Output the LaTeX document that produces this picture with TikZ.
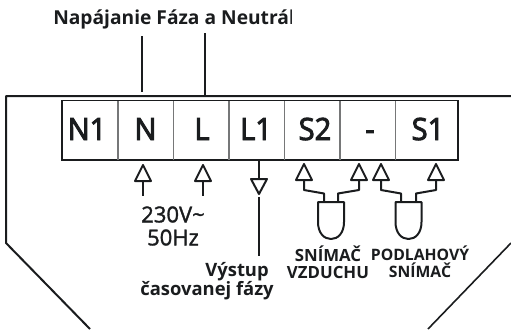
\documentclass[tikz,border=0pt]{standalone}
\usepackage{fontspec}
\setmainfont{Open Sans}
\newfontfamily\cellfont[FakeStretch=0.95,FakeBold=3]{Open Sans}
\newfontfamily\midfont[FakeBold=1.5]{Open Sans}
\definecolor{ink}{HTML}{1A1C1E}
\tikzset{
  wire/.style={draw=ink,line width=1.5pt,line join=round},
  thin frame/.style={draw=ink,line width=1.1pt},
  cellrule/.style={draw=ink!60,line width=0.9pt},
  cell/.style={inner sep=0pt,anchor=base,text=ink,font=\fontsize{23}{23}\selectfont\cellfont},
  lab/.style={inner sep=0pt,align=center,text=ink},
}
\newcommand{\uparr}[2]{\draw[wire] (#1-8,#2+16) -- (#1,#2) -- (#1+8,#2+16) -- cycle;}
\newcommand{\sensor}[1]{\draw[wire] (#1-13,202) -- (#1+13,202) -- (#1+13,222) .. controls (#1+13,233) and (#1+7,239) .. (#1,239) .. controls (#1-7,239) and (#1-13,233) .. (#1-13,222) -- cycle;}
\begin{document}
\begin{tikzpicture}[x=0.75pt,y=-0.75pt]
\useasboundingbox (0,0) rectangle (511,329);
% housing
\draw[wire] (90,329) -- (6,243) -- (6,96) -- (511,96);
\draw[wire,line width=1.2pt] (511,243) -- (428,329);
% terminal block
\draw[thin frame] (62,100.5) rectangle (458,160);
\foreach \x in {118,173.5,229,284.5,340,395.5} \draw[cellrule] (\x,101) -- (\x,159.5);
\node[cell] (n1) at (87,140) {N1};
\node[cell] (n) at (145.5,140) {N};
\node[cell] (l) at (202,140) {L};
\node[cell] (l1) at (256,140) {L1};
\node[cell] (s2) at (315,140) {S2};
\node[cell] (minus) at (370,140) {-};
\node[cell] (s1) at (428,140) {S1};
% top feed
\node[lab,anchor=base west,font=\fontsize{14.4}{16}\selectfont] (title) at (53,24) {\textbf{Napájanie Fáza a Neutrá}l};
\coordinate (fn) at (142,36);
\coordinate (fl) at (205,33);
\coordinate (tn) at (142,92);
\coordinate (tl) at (205,96);
\draw[wire] (fn) -- (tn);
\draw[wire] (fl) -- (tl);
% supply arrows
\uparr{143}{165}
\uparr{203}{165}
\draw[wire] (143,181) -- (143,196);
\draw[wire] (203,181) -- (203,196);
\node[lab,font=\fontsize{16.5}{17.25}\selectfont\midfont] (supply) at (173,226) {230V\char"007E\\50Hz};
% output
\coordinate (o0) at (259,160);
\coordinate (o1) at (259,178);
\coordinate (o2) at (259,197);
\coordinate (o3) at (259,256);
\draw[wire] (o0) -- (o1);
\draw[wire] (251,179) -- (267,179) -- (259,194) -- cycle;
\draw[wire] (o2) -- (o3);
\node[lab,align=right,anchor=east,font=\fontsize{13.8}{14.2}\selectfont\bfseries] (out) at (274,281) {Výstup\kern3.75pt\\časovanej fázy};
% sensors
\uparr{304}{164}
\uparr{359}{164}
\uparr{381}{164}
\uparr{436}{164}
\draw[wire] (304,180) -- (304,190) -- (324,193.5) -- (324,202);
\draw[wire] (359,180) -- (359,190) -- (338,193.5) -- (338,202);
\draw[wire] (381,180) -- (381,190) -- (401,193.5) -- (401,202);
\draw[wire] (436,180) -- (436,190) -- (416,193.5) -- (416,202);
\sensor{331}
\sensor{408.5}
\node[lab,font=\fontsize{12.6}{12.9}\selectfont\bfseries] (sv) at (328,262) {SNÍMAČ\\VZDUCHU};
\node[lab,font=\fontsize{11.8}{12.9}\selectfont\bfseries] (sp) at (420,262) {PODLAHOVÝ\\SNÍMAČ};
\end{tikzpicture}
\end{document}
